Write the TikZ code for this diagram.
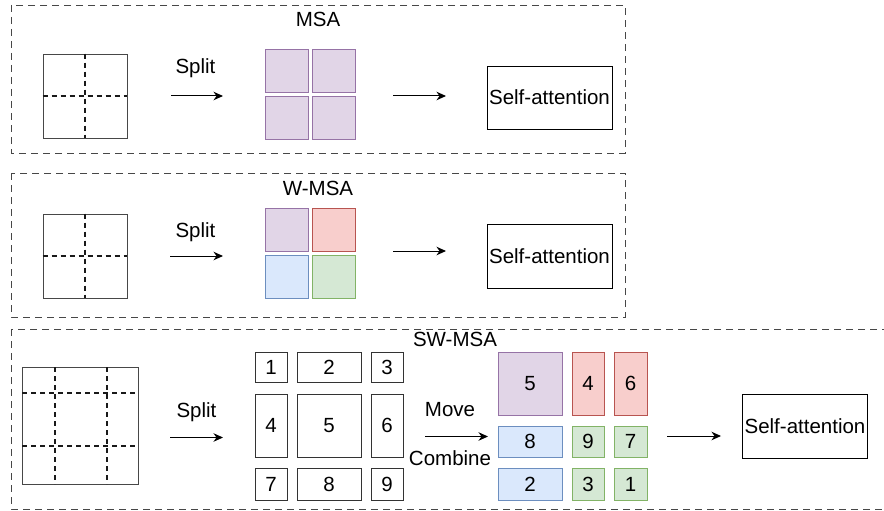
\documentclass[tikz,border=0pt]{standalone}
\usepackage{fontspec}
\setmainfont{Liberation Sans}
\usetikzlibrary{arrows.meta}

\definecolor{purpfill}{HTML}{E1D5E7}\definecolor{purpline}{HTML}{9673A6}
\definecolor{redfill}{HTML}{F8CECC}\definecolor{redline}{HTML}{B85450}
\definecolor{bluefill}{HTML}{DAE8FC}\definecolor{blueline}{HTML}{6C8EBF}
\definecolor{greenfill}{HTML}{D5E8D4}\definecolor{greenline}{HTML}{82B366}

\tikzset{
  lbl/.style={font=\fontsize{20.5}{24}\selectfont, inner sep=0pt},
  frame/.style={draw=black!72, line width=0.8pt, dash pattern=on 7pt off 5pt},
  gridbox/.style={draw=black!72, line width=0.9pt},
  gridcut/.style={draw=black!90, line width=1.7pt, dash pattern=on 5pt off 4pt},
  cellbox/.style={rectangle, draw, line width=0.8pt, inner sep=0pt, outer sep=0pt,
                  font=\fontsize{20.5}{24}\selectfont},
  numbox/.style={cellbox, draw=black!80},
  purp/.style={cellbox, fill=purpfill, draw=purpline},
  redc/.style={cellbox, fill=redfill, draw=redline},
  bluec/.style={cellbox, fill=bluefill, draw=blueline},
  greenc/.style={cellbox, fill=greenfill, draw=greenline},
  attn/.style={cellbox, draw=black, minimum width=125pt},
  flow/.style={draw=black, line width=1pt, -{Stealth[length=9.5pt,width=8.5pt,inset=3pt]}},
}

\begin{document}
\begin{tikzpicture}[x=1pt, y=-1pt]
\clip (0,0) rectangle (884,511);
\fill[white] (0,0) rectangle (884,511);

% ---------------- MSA ----------------
\draw[frame] (11,5) rectangle (625,153);
\node[lbl, anchor=base] (msa) at (318,27) {MSA};
\node[gridbox, rectangle, minimum width=84pt, minimum height=84pt, inner sep=0pt] (g1) at (85,96) {};
\draw[gridcut] (g1.north) -- (g1.south);
\draw[gridcut] (g1.west) -- (g1.east);
\node[lbl, anchor=base] (s1) at (195.5,74) {Split};
\coordinate (a1s) at (171,96); \coordinate (a1e) at (223,96);
\draw[flow] (a1s) -- (a1e);
\node[purp, minimum width=43pt, minimum height=43pt] (p11) at (286.5,70.5) {};
\node[purp, minimum width=43pt, minimum height=43pt] (p12) at (333.5,70.5) {};
\node[purp, minimum width=43pt, minimum height=43pt] (p21) at (286.5,117.5) {};
\node[purp, minimum width=43pt, minimum height=43pt] (p22) at (333.5,117.5) {};
\coordinate (a2s) at (393,96); \coordinate (a2e) at (446,96);
\draw[flow] (a2s) -- (a2e);
\node[attn, minimum height=63pt] (sa1) at (549.5,97.5) {Self-attention};

% ---------------- W-MSA ----------------
\draw[frame] (11,173) rectangle (625,317);
\node[lbl, anchor=base] (wmsa) at (318,195.5) {W-MSA};
\node[gridbox, rectangle, minimum width=84pt, minimum height=84pt, inner sep=0pt] (g2) at (85,256) {};
\draw[gridcut] (g2.north) -- (g2.south);
\draw[gridcut] (g2.west) -- (g2.east);
\node[lbl, anchor=base] (s2) at (195.5,237.5) {Split};
\coordinate (b1s) at (170,256); \coordinate (b1e) at (223,256);
\draw[flow] (b1s) -- (b1e);
\node[purp,   minimum width=43pt, minimum height=43pt] (w11) at (286.5,229.5) {};
\node[redc,   minimum width=43pt, minimum height=43pt] (w12) at (333.5,229.5) {};
\node[bluec,  minimum width=43pt, minimum height=43pt] (w21) at (286.5,277) {};
\node[greenc, minimum width=43pt, minimum height=43pt] (w22) at (333.5,277) {};
\coordinate (b2s) at (393,251); \coordinate (b2e) at (446,251);
\draw[flow] (b2s) -- (b2e);
\node[attn, minimum height=64pt] (sa2) at (549.5,256) {Self-attention};

% ---------------- SW-MSA ----------------
\draw[frame] (11,329) rectangle (900,509);
\node[lbl, anchor=base] (swmsa) at (455,346.5) {SW-MSA};
\node[gridbox, rectangle, minimum width=116pt, minimum height=117pt, inner sep=0pt] (g3) at (80,425.5) {};
\draw[gridcut] (55,367) -- (55,484);
\draw[gridcut] (107,367) -- (107,484);
\draw[gridcut] (22,393) -- (138,393);
\draw[gridcut] (22,446) -- (138,446);
\node[lbl, anchor=base] (s3) at (196.5,417.5) {Split};
\coordinate (c1s) at (170,437.5); \coordinate (c1e) at (223,437.5);
\draw[flow] (c1s) -- (c1e);

% the nine shifted windows
\node[numbox, minimum width=32pt, minimum height=30pt] (n1) at (271,367) {1};
\node[numbox, minimum width=64pt, minimum height=30pt] (n2) at (329,367) {2};
\node[numbox, minimum width=32pt, minimum height=30pt] (n3) at (387,367) {3};
\node[numbox, minimum width=32pt, minimum height=63pt] (n4) at (271,425.5) {4};
\node[numbox, minimum width=64pt, minimum height=63pt] (n5) at (329,425.5) {5};
\node[numbox, minimum width=32pt, minimum height=63pt] (n6) at (387,425.5) {6};
\node[numbox, minimum width=32pt, minimum height=32pt] (n7) at (271,484) {7};
\node[numbox, minimum width=64pt, minimum height=32pt] (n8) at (329,484) {8};
\node[numbox, minimum width=32pt, minimum height=32pt] (n9) at (387,484) {9};

\node[lbl, anchor=base] (mv) at (450,416.5) {Move};
\node[lbl, anchor=base] (cb) at (450,465) {Combine};
\coordinate (c2s) at (425,436.5); \coordinate (c2e) at (488,436.5);
\draw[flow] (c2s) -- (c2e);

% windows after the cyclic shift
\node[purp,   minimum width=64pt, minimum height=63pt] (m5) at (530,383.5) {5};
\node[redc,   minimum width=32pt, minimum height=63pt] (m4) at (588,383.5) {4};
\node[redc,   minimum width=33pt, minimum height=63pt] (m6) at (630.5,383.5) {6};
\node[bluec,  minimum width=64pt, minimum height=31pt] (m8) at (530,441.5) {8};
\node[greenc, minimum width=32pt, minimum height=31pt] (m9) at (588,441.5) {9};
\node[greenc, minimum width=33pt, minimum height=31pt] (m7) at (630.5,441.5) {7};
\node[bluec,  minimum width=64pt, minimum height=32pt] (m2) at (530,484) {2};
\node[greenc, minimum width=32pt, minimum height=32pt] (m3) at (588,484) {3};
\node[greenc, minimum width=33pt, minimum height=32pt] (m1) at (630.5,484) {1};

\coordinate (c3s) at (667,436); \coordinate (c3e) at (721,436);
\draw[flow] (c3s) -- (c3e);
\node[attn, minimum height=64pt] (sa3) at (805,426) {Self-attention};
\end{tikzpicture}
\end{document}
